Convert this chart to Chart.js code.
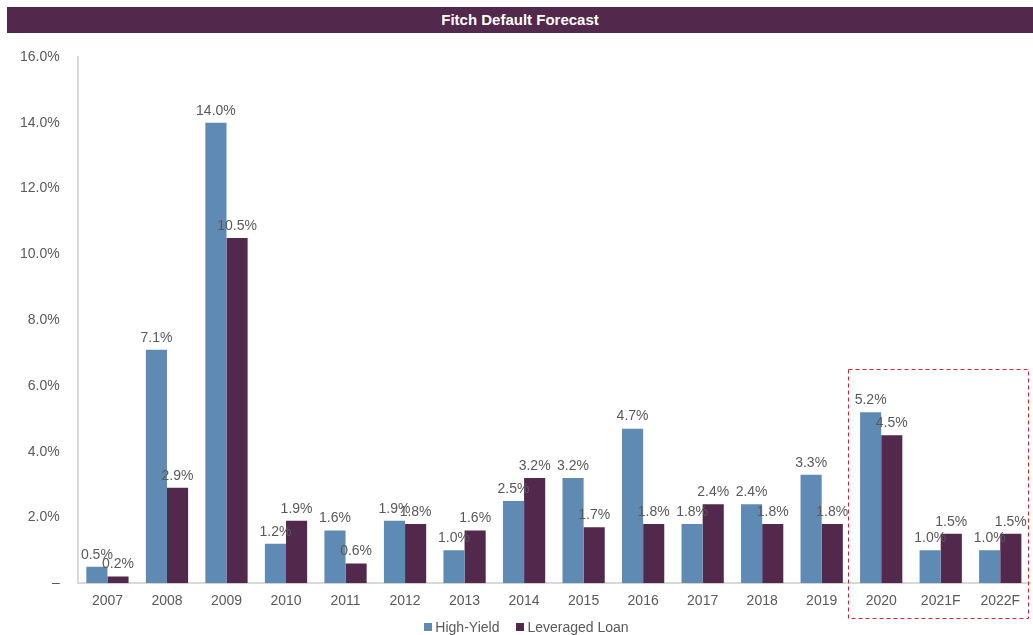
<!DOCTYPE html>
<html>
<head>
<meta charset="utf-8">
<script src="https://cdn.jsdelivr.net/npm/chart.js@4"></script>
<style>
    html, body { margin: 0; padding: 0; background: #fff; }
    #wrap { position: relative; width: 1033px; height: 635px; }
    #title {
        position: absolute; left: 7px; top: 7px; width: 1026px; height: 26px;
        background: #52284C; color: #fff; font: bold 15px 'Liberation Sans', Arial, sans-serif;
        text-align: center; line-height: 26px;
    }
    #chart { position: absolute; left: 0; top: 0; }
</style>
</head>
<body>
<div id="wrap">
    <canvas id="chart" width="1033" height="635"></canvas>
    <div id="title">Fitch Default Forecast</div>
</div>
<script>
// Fitch default rates by year
const years = ['2007', '2008', '2009', '2010', '2011', '2012', '2013', '2014', '2015',
    '2016', '2017', '2018', '2019', '2020', '2021F', '2022F'];
const highYield = [0.5, 7.1, 14.0, 1.2, 1.6, 1.9, 1.0, 2.5, 3.2, 4.7, 1.8, 2.4, 3.3, 5.2, 1.0, 1.0];
const leveragedLoan = [0.2, 2.9, 10.5, 1.9, 0.6, 1.8, 1.6, 3.2, 1.7, 1.8, 2.4, 1.8, 1.8, 4.5, 1.5, 1.5];
const yTicks = [0, 2, 4, 6, 8, 10, 12, 14, 16];

const fontFamily = "'Liberation Sans', Arial, sans-serif";
const textColor = '#595959';

// value labels above each bar
const barLabels = {
    id: 'barLabels',
    afterDatasetsDraw(chart) {
        const ctx = chart.ctx;
        ctx.save();
        ctx.font = '14px ' + fontFamily;
        ctx.fillStyle = textColor;
        ctx.textAlign = 'center';
        ctx.textBaseline = 'bottom';
        chart.data.datasets.forEach((ds, i) => {
            chart.getDatasetMeta(i).data.forEach((bar, j) => {
                ctx.fillText(ds.data[j].toFixed(1) + '%', bar.x, bar.y - 5);
            });
        });
        ctx.restore();
    }
};

// dashed box around 2020 - 2022F
const forecastBox = {
    id: 'forecastBox',
    afterDraw(chart) {
        const x = chart.scales.x;
        const y = chart.scales.y;
        const step = x.getPixelForValue(1) - x.getPixelForValue(0);
        const left = x.getPixelForValue(13) - step / 2 - 3;
        const right = x.getPixelForValue(15) + step / 2 - 2;
        const top = y.getPixelForValue(6.5);
        const bottom = chart.chartArea.bottom + 35;
        const ctx = chart.ctx;
        ctx.save();
        ctx.strokeStyle = '#D9262E';
        ctx.lineWidth = 1;
        ctx.setLineDash([4, 3]);
        ctx.strokeRect(Math.round(left) + 0.5, Math.round(top) + 0.5, Math.round(right - left), Math.round(bottom - top));
        ctx.restore();
    }
};

// compact legend at the bottom (built-in one spaces items too tightly)
const bottomLegend = {
    id: 'bottomLegend',
    afterDraw(chart) {
        const ctx = chart.ctx;
        const box = 8, textGap = 3, itemGap = 17;
        ctx.save();
        ctx.font = '14px ' + fontFamily;
        ctx.textBaseline = 'middle';
        ctx.textAlign = 'left';
        const items = chart.data.datasets.map(ds => ({
            label: ds.label,
            color: ds.backgroundColor,
            w: box + textGap + ctx.measureText(ds.label).width
        }));
        const total = items.reduce((s, it) => s + it.w, 0) + itemGap * (items.length - 1);
        let x = chart.width / 2 + 10 - total / 2;
        const y = chart.chartArea.bottom + 44;
        items.forEach(it => {
            ctx.fillStyle = it.color;
            ctx.fillRect(Math.round(x), Math.round(y - box / 2), box, box);
            ctx.fillStyle = textColor;
            ctx.fillText(it.label, x + box + textGap, y + 1);
            x += it.w + itemGap;
        });
        ctx.restore();
    }
};

new Chart(document.getElementById('chart'), {
    type: 'bar',
    data: {
        labels: years,
        datasets: [{
            label: 'High-Yield',
            data: highYield,
            backgroundColor: '#5E8AB4',
            barPercentage: 1.0,
            categoryPercentage: 0.71
        }, {
            label: 'Leveraged Loan',
            data: leveragedLoan,
            backgroundColor: '#52284C',
            barPercentage: 1.0,
            categoryPercentage: 0.71
        }]
    },
    options: {
        responsive: false,
        animation: false,
        layout: {
            padding: { top: 57, right: 3, left: 2, bottom: 15 }
        },
        plugins: {
            legend: { display: false },
            tooltip: { enabled: false }
        },
        scales: {
            y: {
                min: 0,
                max: 16,
                afterBuildTicks(axis) {
                    axis.ticks = yTicks.map(v => ({ value: v }));
                },
                ticks: {
                    color: textColor,
                    padding: 18,
                    font: { family: fontFamily, size: 14 },
                    callback: function(value) {
                        return value === 0 ? '–' : value.toFixed(1) + '%';
                    }
                },
                grid: { display: false, drawTicks: false },
                border: { color: '#D9D9D9', width: 2 }
            },
            x: {
                ticks: {
                    color: textColor,
                    padding: 10,
                    font: { family: fontFamily, size: 14 }
                },
                grid: { display: false, drawTicks: false },
                border: { color: '#D9D9D9', width: 2 }
            }
        }
    },
    plugins: [barLabels, forecastBox, bottomLegend]
});
</script>
</body>
</html>
